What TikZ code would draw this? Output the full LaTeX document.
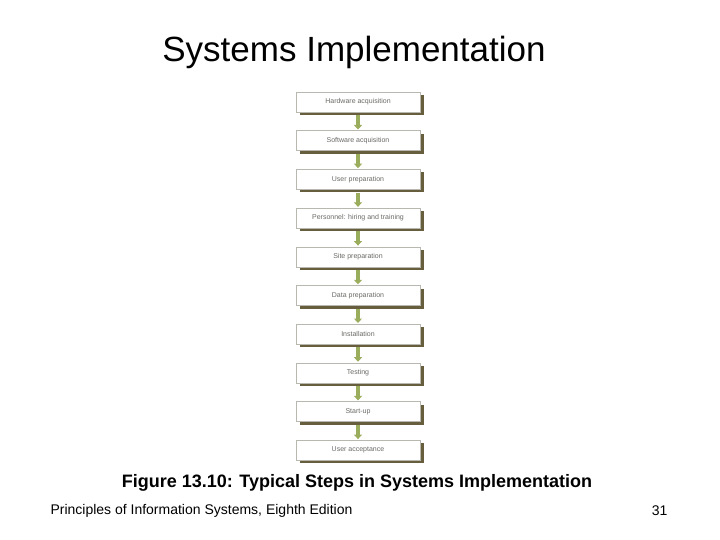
\documentclass[tikz,border=0pt]{standalone}
\usepackage{fontspec}
\setmainfont{Liberation Sans}
\usetikzlibrary{arrows.meta,positioning,shadows}
\definecolor{stepShadow}{HTML}{675E3E}
\definecolor{stepGreen}{HTML}{9AAD5C}
\definecolor{stepLine}{HTML}{B8B8B0}
\definecolor{stepText}{HTML}{6A6A66}
\begin{document}
\begin{tikzpicture}[x=1bp,y=-1bp,
  stepbox/.style={draw=stepLine,line width=0.4bp,fill=white,minimum width=124bp,minimum height=20bp,
    inner sep=0pt,font=\fontsize{7bp}{8bp}\selectfont,text=stepText,
    drop shadow={shadow xshift=3.5bp,shadow yshift=-3bp,fill=stepShadow,opacity=1}},
  garr/.style={-{Triangle[length=4.5bp,width=8bp]},line width=4bp,stepGreen,shorten <=3bp,shorten >=1bp}]
  \useasboundingbox (0,0) rectangle (720,540);
  \node[font=\fontsize{35bp}{40bp}\selectfont] (title) at (354,52) {Systems Implementation};
  \node[stepbox] (s1) at (358,102) {Hardware acquisition};
  \node[stepbox,below=18.3bp of s1] (s2) {Software acquisition};
  \node[stepbox,below=18.3bp of s2] (s3) {User preparation};
  \node[stepbox,below=18.3bp of s3] (s4) {Personnel: hiring and training};
  \node[stepbox,below=18.3bp of s4] (s5) {Site preparation};
  \node[stepbox,below=18.3bp of s5] (s6) {Data preparation};
  \node[stepbox,below=18.3bp of s6] (s7) {Installation};
  \node[stepbox,below=18.3bp of s7] (s8) {Testing};
  \node[stepbox,below=18.3bp of s8] (s9) {Start-up};
  \node[stepbox,below=18.3bp of s9] (s10) {User acceptance};
  \foreach \a/\b in {s1/s2,s2/s3,s3/s4,s4/s5,s5/s6,s6/s7,s7/s8,s8/s9,s9/s10}{\draw[garr] (\a.south) -- (\b.north);}
  \node[font=\bfseries\fontsize{18bp}{20bp}\selectfont] (cap) at (357,483) {Figure 13.10: Typical Steps in Systems Implementation};
  \node[font=\fontsize{14bp}{16bp}\selectfont,anchor=west] (foot) at (47,511) {Principles of Information Systems, Eighth Edition};
  \node[font=\fontsize{14bp}{16bp}\selectfont,anchor=east] (page) at (671,511) {31};
\end{tikzpicture}
\end{document}
